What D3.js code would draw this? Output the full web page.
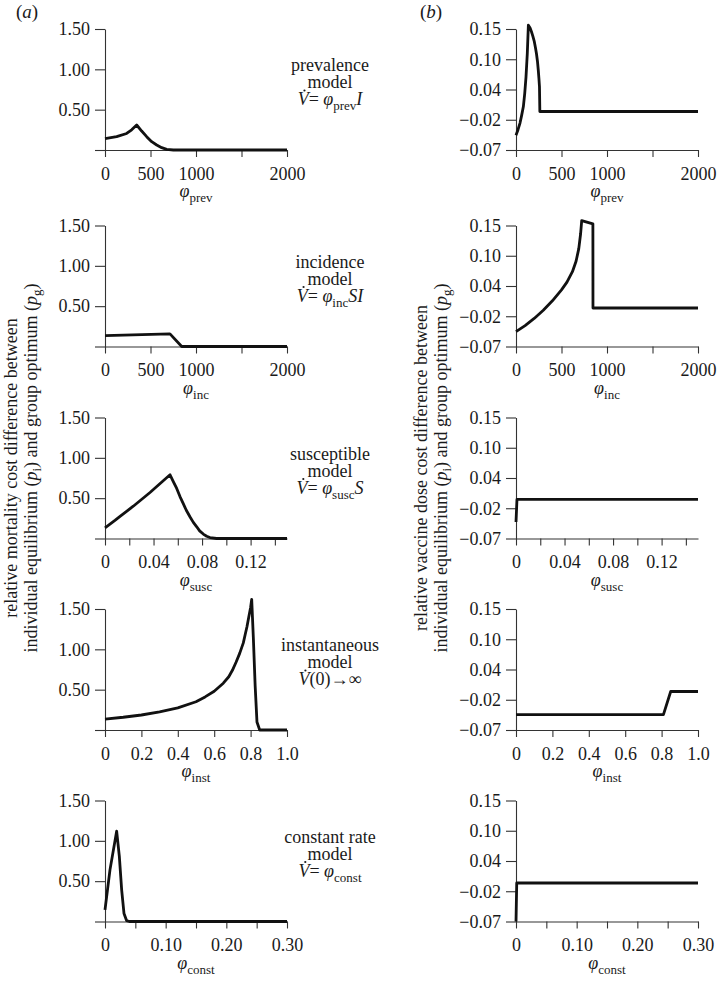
<!DOCTYPE html>
<html><head><meta charset="utf-8">
<script src="https://cdn.jsdelivr.net/npm/d3@7"></script>
<style>
body{margin:0;background:#fff}
svg{display:block}
text{font-family:"Liberation Serif","Times New Roman",serif;fill:#1a1a1a}
</style>
</head><body>
<svg id="c" width="717" height="982"></svg>
<script>
// ---------- data ----------
const models = ["prevalence", "incidence", "susceptible", "instantaneous", "constant rate"];
const subs = ["prev", "inc", "susc", "inst", "const"];

// x-axis ticks
const prevTicks = [0, 500, 1000, 1500, 2000];
const prevTickLabels = ["0", "500", "1000", "", "2000"];
const incTicks = [0, 500, 1000, 1500, 2000];
const incTickLabels = ["0", "500", "1000", "", "2000"];
const suscTicks = [0, 0.02, 0.04, 0.06, 0.08, 0.10, 0.12, 0.14];
const suscTickLabels = ["0", "", "0.04", "", "0.08", "", "0.12", ""];
const instTicks = [0, 0.2, 0.4, 0.6, 0.8, 1.0];
const instTickLabels = ["0", "0.2", "0.4", "0.6", "0.8", "1.0"];
const constTicks = [0, 0.05, 0.10, 0.15, 0.20, 0.25, 0.30];
const constTickLabels = ["0", "", "0.10", "", "0.20", "", "0.30"];

// y-axis ticks
const mortTicks = [0, 0.5, 1.0, 1.5];
const mortTickLabels = ["", "0.50", "1.00", "1.50"];
const doseTicks = [-0.07, -0.015, 0.04, 0.095, 0.15];
const doseTickLabels = ["\u22120.07", "\u22120.02", "0.04", "0.10", "0.15"];

// (a) relative mortality cost difference
const aPrevX = [0, 128, 238, 293, 348, 403, 458, 513, 568, 623, 678, 751, 2000];
const aPrevY = [0.14, 0.165, 0.205, 0.25, 0.31, 0.235, 0.165, 0.103, 0.062, 0.029, 0.008, 0, 0];
const aIncX = [0, 714, 843, 2000];
const aIncY = [0.136, 0.157, 0, 0];
const aSuscX = [0, 0.0082, 0.0124, 0.0233, 0.0371, 0.048, 0.0536, 0.0565, 0.0591, 0.0618, 0.0646, 0.067, 0.070, 0.0728, 0.0756, 0.078, 0.081, 0.0838, 0.0865, 0.092, 0.15];
const aSuscY = [0.132, 0.225, 0.275, 0.40, 0.57, 0.715, 0.79, 0.70, 0.62, 0.52, 0.43, 0.35, 0.27, 0.20, 0.145, 0.095, 0.055, 0.028, 0.012, 0, 0];
const aInstX = [0, 0.1, 0.2, 0.3, 0.4, 0.5, 0.55, 0.6, 0.65, 0.68, 0.7, 0.72, 0.74, 0.76, 0.77, 0.78, 0.79, 0.80, 0.806, 0.815, 0.825, 0.835, 0.85, 1.0];
const aInstY = [0.136, 0.158, 0.186, 0.225, 0.275, 0.35, 0.41, 0.48, 0.58, 0.66, 0.74, 0.84, 0.95, 1.08, 1.18, 1.28, 1.40, 1.52, 1.62, 1.15, 0.55, 0.1, 0, 0];
const aConstX = [0, 0.0082, 0.0192, 0.0236, 0.0275, 0.0313, 0.0357, 0.04, 0.30];
const aConstY = [0.145, 0.64, 1.12, 0.81, 0.39, 0.10, 0.01, 0, 0];

// (b) relative vaccine dose cost difference
const bPrevX = [0, 22, 44, 62, 81, 96, 110, 124, 136, 155, 170, 185, 200, 213, 225, 236, 245, 252, 258, 262, 2000];
const bPrevY = [-0.043, -0.033, -0.021, -0.007, 0.009, 0.033, 0.063, 0.105, 0.157, 0.152, 0.145, 0.137, 0.128, 0.117, 0.105, 0.091, 0.075, 0.060, 0.045, 0, 0];
const bIncX = [0, 100, 200, 300, 400, 500, 560, 620, 660, 690, 710, 722, 845, 846, 2000];
const bIncY = [-0.043, -0.032, -0.019, -0.004, 0.013, 0.033, 0.047, 0.066, 0.085, 0.108, 0.135, 0.159, 0.153, 0, 0];
const bSuscX = [0, 0.0008, 0.15];
const bSuscY = [-0.04, 0.001, 0.001];
const bInstX = [0, 0.81, 0.85, 1.0];
const bInstY = [-0.042, -0.042, 0, 0];
const bConstX = [0, 0.0012, 0.30];
const bConstY = [-0.07, 0, 0];

// ---------- layout ----------
const svg = d3.select("#c");
const W = 182, H = 121;
const bottoms = [150, 346.5, 538.5, 730, 921.5];
const leftA = 105, leftB = 516;
const fs = 18;
const PHI = "\u03C6";

const xDomains = [[0, 2000], [0, 2000], [0, 0.15], [0, 1], [0, 0.3]];
const xTicksAll = [prevTicks, incTicks, suscTicks, instTicks, constTicks];
const xLabelsAll = [prevTickLabels, incTickLabels, suscTickLabels, instTickLabels, constTickLabels];
const aData = [[aPrevX, aPrevY], [aIncX, aIncY], [aSuscX, aSuscY], [aInstX, aInstY], [aConstX, aConstY]];
const bData = [[bPrevX, bPrevY], [bIncX, bIncY], [bSuscX, bSuscY], [bInstX, bInstY], [bConstX, bConstY]];

const yA = d3.scaleLinear().domain([0, 1.5]).range([H, 0]);
const yB = d3.scaleLinear().domain([-0.07, 0.15]).range([H, 0]);

function styleAxis(g) {
  g.selectAll("path.domain").attr("stroke", "#333").attr("stroke-width", 1.1);
  g.selectAll(".tick line").attr("stroke", "#333").attr("stroke-width", 1.1);
  g.selectAll(".tick text").attr("font-size", fs).attr("font-family", '"Liberation Serif", serif').attr("fill", "#1a1a1a");
}

function panel(left, bottom, i, yScale, yTicks, yLabels, data) {
  const g = svg.append("g").attr("transform", `translate(${left},${bottom - H})`);
  const x = d3.scaleLinear().domain(xDomains[i]).range([0, W]);
  const xl = xLabelsAll[i];
  const xAxis = d3.axisBottom(x).tickValues(xTicksAll[i])
    .tickFormat((d, k) => xl[k]).tickSize(7).tickPadding(10).tickSizeOuter(0);
  const yAxis = d3.axisLeft(yScale).tickValues(yTicks)
    .tickFormat((d, k) => yLabels[k]).tickSize(10).tickPadding(5).tickSizeOuter(0);
  const gx = g.append("g").attr("transform", `translate(0,${H})`).call(xAxis);
  styleAxis(gx);
  const gy = g.append("g").call(yAxis);
  styleAxis(gy);
  const pts = data[0].map((v, k) => [v, data[1][k]]);
  const line = d3.line().x(d => x(d[0])).y(d => yScale(d[1]));
  g.append("path").datum(pts).attr("d", line)
    .attr("fill", "none").attr("stroke", "#111").attr("stroke-width", 2.8)
    .attr("stroke-linejoin", "round").attr("stroke-linecap", "butt");
  // x-axis label
  const t = g.append("text").attr("x", W / 2).attr("y", H + 47).attr("text-anchor", "middle").attr("font-size", fs);
  t.append("tspan").attr("font-style", "italic").text(PHI);
  t.append("tspan").attr("font-size", 13).attr("dy", 5).text(subs[i]);
}

for (let i = 0; i < 5; i++) {
  panel(leftA, bottoms[i], i, yA, mortTicks, mortTickLabels, aData[i]);
  panel(leftB, bottoms[i], i, yB, doseTicks, doseTickLabels, bData[i]);
}

// model descriptions
const cx = 330;
for (let i = 0; i < 5; i++) {
  const top = bottoms[i] - H;
  svg.append("text").attr("x", cx).attr("y", top + 42).attr("text-anchor", "middle").attr("font-size", fs).text(models[i]);
  svg.append("text").attr("x", cx).attr("y", top + 59).attr("text-anchor", "middle").attr("font-size", fs).text("model");
  const t = svg.append("text").attr("x", cx).attr("y", top + 76).attr("text-anchor", "middle").attr("font-size", fs);
  t.append("tspan").attr("font-style", "italic").text("V");
  if (i === 3) {
    t.append("tspan").text("(0)\u2192\u221E");
  } else {
    t.append("tspan").text("= ");
    t.append("tspan").attr("font-style", "italic").text(PHI);
    t.append("tspan").attr("font-size", 13).attr("dy", 5).text(subs[i]);
    const tail = ["I", "SI", "S", "", ""][i];
    if (tail) t.append("tspan").attr("dy", -5).attr("font-style", "italic").text(tail);
  }
  // time-derivative dot above V
  const ext = t.node().getExtentOfChar(0);
  svg.append("circle").attr("cx", ext.x + ext.width * 0.62).attr("cy", ext.y + 1.5)
    .attr("r", 1.1).attr("fill", "#1a1a1a");
}

// y-axis titles
function yTitle(xb1, xb2, line1) {
  const cy = 468;
  svg.append("text").attr("transform", `translate(${xb1},${cy}) rotate(-90)`)
    .attr("text-anchor", "middle").attr("font-size", 18).text(line1);
  const t = svg.append("text").attr("transform", `translate(${xb2},${cy}) rotate(-90)`)
    .attr("text-anchor", "middle").attr("font-size", 18);
  t.append("tspan").text("individual equilibrium (");
  t.append("tspan").attr("font-style", "italic").text("p");
  t.append("tspan").attr("font-size", 13).attr("dy", 4).text("i");
  t.append("tspan").attr("dy", -4).text(") and group optimum (");
  t.append("tspan").attr("font-style", "italic").text("p");
  t.append("tspan").attr("font-size", 13).attr("dy", 4).text("g");
  t.append("tspan").attr("dy", -4).text(")");
}
yTitle(17, 37, "relative mortality cost difference between");
yTitle(427, 447, "relative vaccine dose cost difference between");

// panel letters
function letter(x, ch) {
  const t = svg.append("text").attr("x", x).attr("y", 18).attr("font-size", 19);
  t.append("tspan").text("(");
  t.append("tspan").attr("font-style", "italic").text(ch);
  t.append("tspan").text(")");
}
letter(16, "a");
letter(420, "b");
</script>
</body></html>
